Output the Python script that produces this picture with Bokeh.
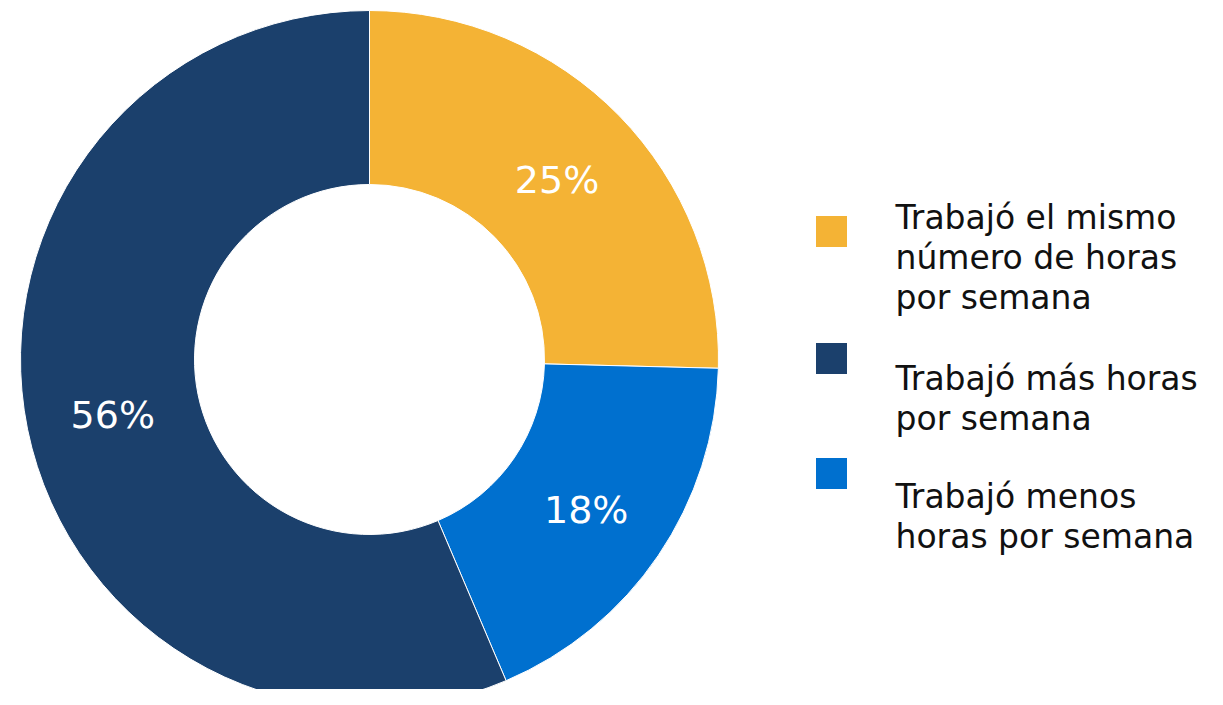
import math
from bokeh.plotting import figure
from bokeh.models import Range1d, ColumnDataSource
from bokeh.core.properties import value
from bokeh.embed import file_html
from bokeh.resources import INLINE

# Data
categories = ["Trabajó el mismo número de horas por semana",
              "Trabajó más horas por semana",
              "Trabajó menos horas por semana"]
shares = [25.4, 56.4, 18.2]
colors = ["#F4B335", "#1B406C", "#0070CF"]
legend_lines = [["Trabajó el mismo", "número de horas", "por semana"],
                ["Trabajó más horas", "por semana"],
                ["Trabajó menos", "horas por semana"]]
# drawing order around the ring (clockwise from top)
ring_order = [0, 2, 1]

W, H = 1207, 689
p = figure(width=W, height=H, output_backend="svg", toolbar_location=None,
           x_range=Range1d(0, W), y_range=Range1d(705 - H, 705),
           min_border=0, outline_line_color=None)
p.axis.visible = False
p.grid.visible = False
p.background_fill_color = "white"

def Y(ys):
    return 705 - ys

cx, cy = 369, Y(359)
r_in, r_out = 175, 349
total = sum(shares)

starts, ends, cols, lx, ly, labs = [], [], [], [], [], []
cum = 0.0
for i in ring_order:
    a0 = math.pi / 2 - cum / total * 2 * math.pi
    cum += shares[i]
    a1 = math.pi / 2 - cum / total * 2 * math.pi
    starts.append(a0)
    ends.append(a1)
    cols.append(colors[i])
    mid = (a0 + a1) / 2
    rm = (r_in + r_out) / 2
    lx.append(cx + rm * math.cos(mid))
    ly.append(cy + rm * math.sin(mid) - 3)
    labs.append(f"{round(shares[i])}%")

src = ColumnDataSource(dict(start=starts, end=ends, color=cols))
p.annular_wedge(x=cx, y=cy, inner_radius=r_in, outer_radius=r_out,
                start_angle="start", end_angle="end", direction="clock",
                fill_color="color", line_color="white", line_width=1, source=src)

p.text(x=lx, y=ly, text=labs, text_color="white", text_font=value("DejaVu Sans"),
       text_font_size="38px", text_align="center", text_baseline="middle")

# Legend
sq_y = [231, 358, 473]
first_base = [217, 378, 496]
for k, i in enumerate([0, 1, 2]):
    p.rect(x=[831], y=[Y(sq_y[k])], width=31, height=31, fill_color=colors[i], line_color=None)
    ys = [Y(first_base[k] + 40 * j) for j in range(len(legend_lines[i]))]
    p.text(x=[895] * len(ys), y=ys, text=legend_lines[i], text_color="#111111",
           text_font=value("DejaVu Sans"), text_font_size="33px",
           text_align="left", text_baseline="alphabetic")

open("out.html", "w").write(file_html(p, INLINE))
